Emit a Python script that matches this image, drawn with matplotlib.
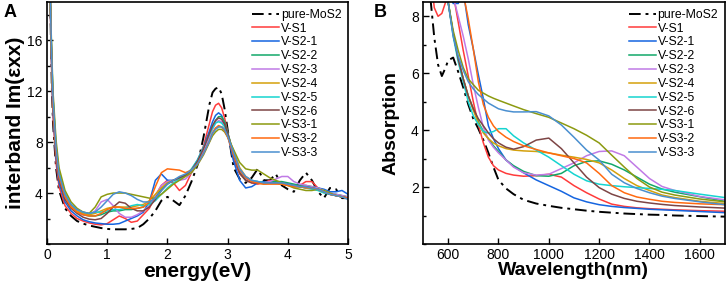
import matplotlib
matplotlib.use('Agg')
import matplotlib.pyplot as plt
from matplotlib.ticker import MultipleLocator

plt.rcParams['font.family'] = ['Liberation Sans', 'DejaVu Sans']

names = ['pure-MoS2', 'V-S1', 'V-S2-1', 'V-S2-2', 'V-S2-3', 'V-S2-4',
         'V-S2-5', 'V-S2-6', 'V-S3-1', 'V-S3-2', 'V-S3-3']
colors = ['black', '#ff3b3b', '#1565e0', '#12a86a', '#c07ae6', '#d4a00c',
          '#16d4d0', '#7d4545', '#8c9a10', '#ff6a10', '#4a8fd0']

# ---- panel A: interband Im(eps_xx) vs energy (eV)
energy = [0.05, 0.08, 0.1, 0.15, 0.2, 0.3, 0.4, 0.5, 0.6, 0.7, 0.8, 0.9, 1.0, 1.1,
          1.2, 1.3, 1.4, 1.5, 1.6, 1.7, 1.8, 1.9, 2.0, 2.1, 2.2, 2.3, 2.4, 2.5,
          2.6, 2.7, 2.75, 2.8, 2.85, 2.9, 2.95, 3.0, 3.1, 3.2, 3.3, 3.4, 3.5,
          3.6, 3.7, 3.8, 3.9, 4.0, 4.1, 4.2, 4.3, 4.4, 4.5, 4.6, 4.7, 4.8, 4.9, 5.0]

a_pure = [20, 12.5, 9.5, 6.0, 4.2, 2.8, 2.2, 1.8, 1.6, 1.45, 1.35, 1.25, 1.18, 1.15,
          1.15, 1.15, 1.18, 1.25, 1.55, 2.0, 2.6, 3.4, 3.7, 3.4, 3.05, 3.8, 4.9, 6.2,
          8.4, 11.0, 11.9, 12.2, 12.3, 11.8, 10.6, 9.0, 6.0, 5.1, 4.8, 5.2, 5.9,
          5.0, 5.0, 5.5, 4.6, 4.3, 4.1, 5.0, 5.6, 5.0, 4.1, 3.6, 4.4, 4.3, 3.6, 3.6]
a_vs1 = [20, 13, 10, 6.4, 4.5, 3.0, 2.4, 2.0, 1.8, 1.65, 1.55, 1.5, 1.6, 1.9,
         2.2, 2.0, 1.7, 1.8, 2.3, 2.8, 3.8, 4.6, 5.0, 4.8, 4.2, 4.6, 5.6, 6.5,
         7.7, 9.5, 10.4, 10.9, 11.05, 10.7, 9.9, 8.8, 6.6, 5.5, 5.0, 4.8, 4.7,
         4.8, 5.0, 4.9, 4.7, 4.6, 4.6, 4.6, 4.9, 4.9, 4.4, 4.1, 3.9, 3.8, 3.7, 3.6]
a_vs21 = [20, 13.5, 10.5, 6.8, 4.8, 3.3, 2.6, 2.2, 1.9, 1.75, 1.65, 1.6, 1.55, 1.55,
          1.6, 1.8, 2.0, 2.2, 2.5, 3.3, 5.0, 5.5, 5.0, 5.0, 5.15, 5.4, 5.8, 6.6,
          7.6, 8.9, 9.6, 10.1, 10.3, 10.1, 9.5, 8.6, 6.5, 5.0, 4.4, 4.5, 4.8,
          4.9, 4.8, 4.8, 4.7, 4.7, 4.5, 4.5, 4.4, 4.5, 4.4, 4.3, 4.1, 4.1, 4.2, 3.9]
a_vs22 = [20, 14, 11, 7.2, 5.2, 3.6, 2.9, 2.5, 2.3, 2.2, 2.2, 2.3, 2.5, 2.6,
          2.6, 2.7, 2.7, 2.8, 2.9, 3.2, 3.7, 4.3, 4.8, 5.0, 5.2, 5.4, 5.8, 6.4,
          7.3, 8.5, 9.2, 9.7, 10.0, 10.0, 9.6, 8.8, 7.0, 5.6, 5.0, 4.9, 4.9,
          4.8, 4.9, 4.9, 4.9, 4.8, 4.7, 4.6, 4.6, 4.5, 4.4, 4.2, 4.0, 3.9, 3.8, 3.7]
a_vs23 = [20, 14, 11, 7.2, 5.2, 3.6, 2.9, 2.5, 2.3, 2.3, 2.6, 3.3, 3.5, 3.0,
          2.4, 2.1, 2.1, 2.3, 2.6, 3.0, 3.8, 4.6, 4.9, 5.0, 5.0, 5.1, 5.6, 6.3,
          7.3, 8.4, 9.0, 9.5, 9.7, 9.6, 9.3, 8.6, 7.0, 5.7, 5.1, 4.9, 4.8,
          4.8, 4.9, 5.1, 5.3, 5.3, 4.9, 4.7, 4.6, 4.5, 4.4, 4.2, 4.0, 3.9, 3.8, 3.7]
a_vs24 = [20, 14.5, 11.5, 7.6, 5.5, 3.8, 3.0, 2.6, 2.4, 2.3, 2.4, 2.6, 2.8, 2.9,
          2.9, 2.9, 2.9, 3.0, 3.1, 3.4, 3.9, 4.4, 4.8, 5.0, 5.2, 5.4, 5.8, 6.3,
          7.1, 8.1, 8.7, 9.1, 9.2, 9.2, 9.0, 8.6, 7.3, 6.0, 5.3, 5.0, 4.8,
          4.7, 4.8, 4.8, 4.7, 4.6, 4.5, 4.5, 4.5, 4.4, 4.3, 4.1, 3.9, 3.8, 3.7, 3.6]
a_vs25 = [20, 14.5, 11.5, 7.8, 5.7, 4.0, 3.1, 2.7, 2.5, 2.4, 2.5, 2.5, 2.6, 2.7,
          2.7, 2.8, 3.0, 3.1, 3.0, 3.1, 3.4, 3.9, 4.4, 4.8, 5.1, 5.4, 5.9, 6.6,
          7.6, 8.6, 9.1, 9.5, 9.6, 9.5, 9.2, 8.6, 7.1, 5.8, 5.2, 5.0, 4.9,
          4.8, 4.8, 4.8, 4.8, 4.7, 4.6, 4.5, 4.4, 4.3, 4.2, 4.0, 3.9, 3.8, 3.7, 3.6]
a_vs26 = [20, 14, 11, 7.2, 5.1, 3.5, 2.8, 2.4, 2.1, 1.95, 1.9, 2.0, 2.4, 2.9,
          3.3, 3.2, 2.8, 2.6, 2.6, 2.9, 3.5, 4.2, 4.7, 5.0, 5.2, 5.4, 5.8, 6.5,
          7.5, 8.7, 9.3, 9.7, 9.9, 9.8, 9.4, 8.7, 7.0, 5.6, 5.0, 4.8, 4.8,
          4.8, 4.8, 4.8, 4.8, 4.7, 4.6, 4.5, 4.5, 4.4, 4.3, 4.1, 3.9, 3.8, 3.7, 3.6]
a_vs31 = [20, 15, 12, 8.2, 6.0, 4.2, 3.3, 2.8, 2.5, 2.4, 2.9, 3.7, 3.9, 4.0,
          4.0, 4.0, 3.9, 3.8, 3.7, 3.6, 3.6, 3.9, 4.3, 4.7, 5.0, 5.3, 5.6, 6.2,
          7.0, 8.0, 8.5, 8.8, 9.0, 9.0, 8.8, 8.4, 7.4, 6.4, 5.9, 5.8, 5.8,
          5.5, 5.2, 5.0, 4.8, 4.6, 4.4, 4.3, 4.2, 4.2, 4.3, 4.2, 4.0, 3.8, 3.7, 3.6]
a_vs32 = [20, 14, 11, 7.3, 5.3, 3.7, 2.9, 2.5, 2.3, 2.2, 2.2, 2.4, 2.7, 2.9,
          2.9, 2.8, 2.8, 2.8, 2.9, 3.3, 4.5, 5.6, 5.9, 5.85, 5.8, 5.6, 5.8, 6.3,
          7.1, 8.1, 8.7, 9.1, 9.3, 9.2, 8.9, 8.4, 7.0, 5.8, 5.2, 4.9, 4.8,
          4.7, 4.7, 4.7, 4.7, 4.6, 4.5, 4.5, 4.4, 4.4, 4.3, 4.1, 3.9, 3.8, 3.7, 3.6]
a_vs33 = [20, 14.5, 11.5, 7.6, 5.5, 3.9, 3.1, 2.7, 2.5, 2.4, 2.5, 2.9, 3.4, 3.9,
          4.1, 4.0, 3.8, 3.5, 3.3, 3.3, 3.6, 4.2, 4.7, 5.0, 5.3, 5.5, 5.8, 6.3,
          7.1, 8.1, 8.7, 9.0, 9.2, 9.2, 9.0, 8.5, 7.2, 5.9, 5.3, 5.0, 4.9,
          4.8, 4.8, 4.8, 4.8, 4.7, 4.6, 4.5, 4.5, 4.4, 4.3, 4.1, 3.9, 3.8, 3.7, 3.5]

# ---- panel B: absorption vs wavelength (nm)
wl = [530, 545, 560, 575, 590, 600, 620, 640, 660, 680, 700, 720, 740, 760, 780,
      800, 830, 860, 900, 950, 1000, 1050, 1100, 1150, 1200, 1250, 1300, 1350,
      1400, 1450, 1500, 1600, 1700]

b_pure = [8.6, 7.25, 6.3, 5.9, 6.2, 6.45, 6.55, 6.05, 5.5, 4.9, 4.4, 4.05, 3.65, 3.2, 2.7,
          2.25, 1.95, 1.75, 1.55, 1.42, 1.34, 1.27, 1.22, 1.17, 1.13, 1.1, 1.07, 1.05,
          1.03, 1.02, 1.0, 0.98, 0.96]
b_vs1 = [9.5, 8.3, 8.0, 8.1, 8.5, 8.8, 8.8, 7.8, 6.8, 5.9, 5.0, 4.2, 3.55, 3.05, 2.75,
         2.6, 2.48, 2.42, 2.38, 2.4, 2.45, 2.35, 2.05, 1.8, 1.58, 1.4, 1.32, 1.27,
         1.24, 1.22, 1.2, 1.17, 1.15]
b_vs21 = [9.5, 9.5, 9.5, 9.5, 9.5, 9.0, 8.45, 8.45, 8.9, 7.7, 6.85, 5.95, 5.1, 4.15, 3.7,
          3.35, 2.95, 2.73, 2.5, 2.25, 2.05, 1.85, 1.62, 1.48, 1.38, 1.32, 1.28, 1.25,
          1.22, 1.2, 1.18, 1.14, 1.1]
b_vs22 = [9.5, 9.5, 9.5, 9.5, 9.0, 8.5, 7.4, 6.5, 5.8, 5.2, 4.75, 4.3, 3.95, 3.7, 3.45,
          3.25, 2.95, 2.75, 2.55, 2.4, 2.38, 2.48, 2.75, 2.9, 2.92, 2.8, 2.6, 2.35,
          2.1, 1.93, 1.82, 1.66, 1.5]
b_vs23 = [9.5, 9.5, 9.5, 9.5, 9.5, 9.5, 8.7, 8.0, 7.3, 6.5, 5.6, 4.8, 4.1, 3.65, 3.4,
          3.2, 2.95, 2.7, 2.5, 2.42, 2.45, 2.65, 2.85, 3.1, 3.25, 3.27, 3.1, 2.7,
          2.3, 2.02, 1.88, 1.67, 1.55]
b_vs24 = [9.5, 9.5, 9.5, 9.5, 9.0, 8.5, 7.4, 6.5, 5.8, 5.2, 4.7, 4.25, 3.9, 3.7, 3.55,
          3.45, 3.35, 3.3, 3.27, 3.25, 3.2, 3.12, 3.05, 2.97, 2.85, 2.6, 2.3, 2.05,
          1.88, 1.72, 1.63, 1.5, 1.42]
b_vs25 = [9.5, 9.5, 9.5, 9.5, 9.0, 8.5, 7.3, 6.4, 5.7, 5.0, 4.5, 4.2, 3.95, 3.9, 3.95,
          4.05, 4.05, 3.8, 3.55, 3.3, 3.05, 2.75, 2.45, 2.22, 2.1, 2.05, 2.01, 1.98,
          1.95, 1.92, 1.88, 1.75, 1.63]
b_vs26 = [9.5, 9.5, 9.5, 9.5, 9.0, 8.5, 7.4, 6.5, 5.8, 5.2, 4.75, 4.4, 4.15, 3.9, 3.7,
          3.55, 3.4, 3.33, 3.42, 3.65, 3.72, 3.35, 2.85, 2.35, 1.98, 1.75, 1.6, 1.5,
          1.44, 1.39, 1.35, 1.3, 1.26]
b_vs31 = [9.5, 9.5, 9.5, 9.5, 9.0, 8.5, 7.5, 6.8, 6.2, 5.8, 5.6, 5.4, 5.3, 5.2, 5.12,
          5.05, 4.95, 4.85, 4.72, 4.58, 4.45, 4.25, 4.05, 3.82, 3.55, 3.12, 2.7, 2.3,
          2.0, 1.82, 1.72, 1.58, 1.48]
b_vs32 = [9.5, 9.5, 9.5, 9.5, 9.5, 9.5, 9.5, 9.5, 8.8, 7.9, 6.85, 5.7, 4.9, 4.45, 4.15,
          3.95, 3.75, 3.6, 3.45, 3.32, 3.2, 3.1, 3.0, 2.85, 2.48, 2.05, 1.8, 1.65,
          1.57, 1.5, 1.46, 1.41, 1.38]
b_vs33 = [9.5, 9.5, 9.5, 9.5, 9.0, 8.5, 7.3, 6.6, 6.1, 5.7, 5.45, 5.25, 5.1, 4.95, 4.85,
          4.75, 4.68, 4.64, 4.64, 4.65, 4.5, 4.18, 3.75, 3.3, 2.95, 2.45, 2.15, 1.95,
          1.8, 1.68, 1.6, 1.48, 1.38]

data_a = [a_pure, a_vs1, a_vs21, a_vs22, a_vs23, a_vs24, a_vs25, a_vs26, a_vs31, a_vs32, a_vs33]
data_b = [b_pure, b_vs1, b_vs21, b_vs22, b_vs23, b_vs24, b_vs25, b_vs26, b_vs31, b_vs32, b_vs33]

fig = plt.figure(figsize=(7.26, 2.95), dpi=100)
axA = fig.add_axes([0.0647, 0.173, 0.4147, 0.82])
axB = fig.add_axes([0.5826, 0.173, 0.4160, 0.82])


def style(ax):
    for s in ax.spines.values():
        s.set_linewidth(1.2)
    ax.tick_params(which='both', direction='in', width=1.0, labelsize=10, pad=3)
    ax.tick_params(which='major', length=4)
    ax.tick_params(which='minor', length=2.5)
    ax.tick_params(axis='x', which='minor', bottom=False)


for i in range(len(names)):
    if i == 0:
        axA.plot(energy, data_a[i], color='black', lw=1.4, ls=(0, (6, 2.5, 1.5, 2.5)), label=names[i])
        axB.plot(wl, data_b[i], color='black', lw=1.4, ls=(0, (6, 2.5, 1.5, 2.5)), label=names[i])
    else:
        axA.plot(energy, data_a[i], color=colors[i], lw=1.1, label=names[i])
        axB.plot(wl, data_b[i], color=colors[i], lw=1.1, label=names[i])

axA.set_xlim(0, 5)
axA.set_ylim(0, 19)
axA.xaxis.set_major_locator(MultipleLocator(1))
axA.set_yticks([4, 8, 12, 16])
axA.yaxis.set_minor_locator(MultipleLocator(2))
style(axA)
axA.set_xlabel('energy(eV)', fontsize=15, fontweight='bold', labelpad=0)
axA.set_ylabel('interband Im(εxx)', fontsize=15, fontweight='bold', labelpad=2)

axB.set_xlim(500, 1700)
axB.set_ylim(0, 8.5)
axB.set_xticks([600, 800, 1000, 1200, 1400, 1600])
axB.set_yticks([2, 4, 6, 8])
axB.yaxis.set_minor_locator(MultipleLocator(1))
style(axB)
axB.set_xlabel('Wavelength(nm)', fontsize=14, fontweight='bold', labelpad=0)
axB.set_ylabel('Absorption', fontsize=14, fontweight='bold', labelpad=8)

for ax in (axA, axB):
    ax.legend(loc='upper right', frameon=False, fontsize=8.8, handlelength=2.2,
              handletextpad=0.15, labelspacing=0.15, borderaxespad=0.35,
              borderpad=0.2)

fig.text(0.005, 0.985, 'A', fontsize=13, fontweight='bold', va='top')
fig.text(0.515, 0.985, 'B', fontsize=13, fontweight='bold', va='top')

plt.savefig('out.png', dpi=100)
